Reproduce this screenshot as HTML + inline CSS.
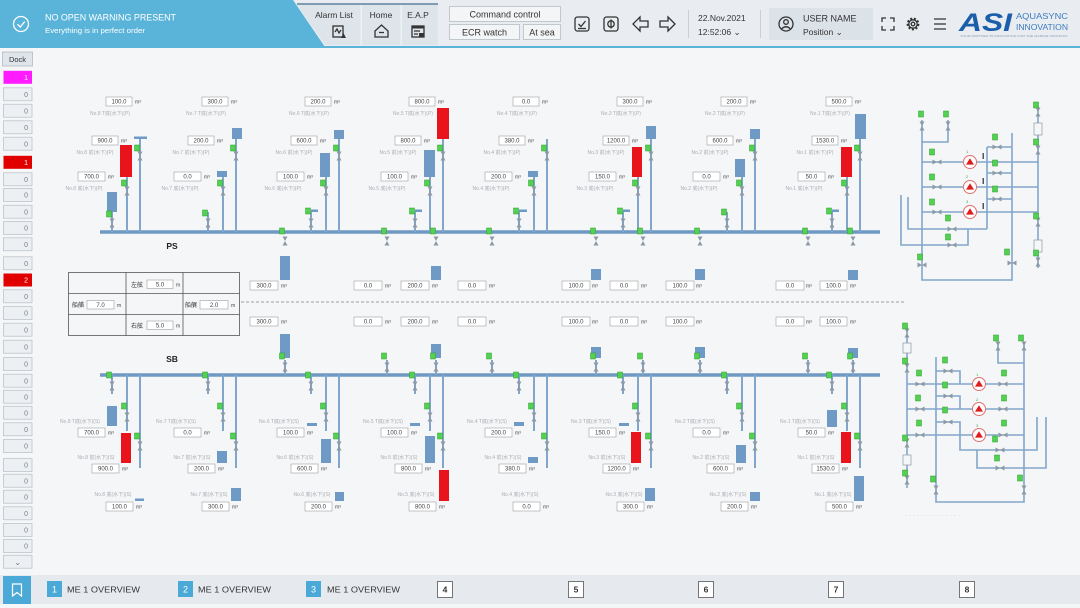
<!DOCTYPE html>
<html><head><meta charset="utf-8">
<style>
html,body{margin:0;padding:0;background:#f5f6f7;}
svg{display:block;font-family:"Liberation Sans","Noto Sans CJK SC",sans-serif;}
.p{stroke:#82a6cb;stroke-width:2;fill:none}
.hd{stroke:#6f98c3;stroke-width:3.5}
.bx{fill:#fff;stroke:#9a9fa5;stroke-width:0.6}
.bt{font-size:6px;fill:#444;text-anchor:middle}
.u{font-size:5px;fill:#444}
.lb{font-size:5px;fill:#a9aeb4;text-anchor:middle}
.tb{fill:#6f9ac6}
.tr{fill:#e8131b}
.sp{stroke:#82a6cb;stroke-width:1.6;fill:none}
.sb{fill:#edf0f3;stroke:#b5bec6;stroke-width:0.7}
.st{font-size:7px;fill:#7a7f85;text-anchor:end}
.ic{fill:none;stroke:#333;stroke-width:1.3}
.tt{font-size:8.5px;fill:#333}
</style></head><body>
<svg width="1080" height="608" viewBox="0 0 1080 608" xmlns="http://www.w3.org/2000/svg">
<defs>
<g id="mk"><rect x="-2.5" y="-3" width="5" height="6" fill="#52d152" stroke="#2f9e2f" stroke-width="0.5"/></g>
<g id="vv"><path d="M-2.5,-4.5H2.5L0,0ZM0,0L2.5,4.5H-2.5Z" fill="#8d99a5"/></g>
<g id="vh"><path d="M-4.5,-2.5V2.5L0,0ZM0,0L4.5,-2.5V2.5Z" fill="#8d99a5"/></g>
<g id="pm"><circle r="6.5" fill="#fff" stroke="#e07070" stroke-width="1"/><path d="M0,-3.8L4,2.6H-4Z" fill="#e01c1c"/></g>
</defs>

<rect width="1080" height="608" fill="#f5f6f7"/>

<!-- TOP BAR -->
<rect width="1080" height="47" fill="#e9edf1"/>
<path d="M0,0H293L325,47H0Z" fill="#5ab4d9"/>
<rect y="46" width="1080" height="2" fill="#5ab4d9"/>
<circle cx="21" cy="24" r="7.5" fill="none" stroke="#fff" stroke-width="1.3"/>
<path d="M17.5,24.2L20.2,27L24.8,21.6" fill="none" stroke="#fff" stroke-width="1.3"/>
<text x="45" y="20.5" font-size="9" fill="#fff" textLength="131" lengthAdjust="spacingAndGlyphs">NO OPEN WARNING PRESENT</text>
<text x="45" y="33" font-size="7.5" fill="#fff" textLength="100" lengthAdjust="spacingAndGlyphs">Everything is in perfect order</text>

<!-- tabs -->
<path d="M297,4H438V45H325Z" fill="#dde4ea"/>
<rect x="297" y="3" width="141" height="2" fill="#7f9cb5"/>
<rect x="360.5" y="5" width="1.5" height="40" fill="#eef2f5"/>
<rect x="400.5" y="5" width="1.5" height="40" fill="#eef2f5"/>
<text class="tt" x="334" y="18" text-anchor="middle">Alarm List</text>
<text class="tt" x="381" y="18" text-anchor="middle">Home</text>
<text class="tt" x="418" y="18" text-anchor="middle">E.A.P</text>
<rect x="333" y="26" width="10" height="11" class="ic"/>
<path d="M335,32L337,29L339,33L341,30" class="ic" stroke-width="0.9"/>
<path d="M341,38L343.5,33L346,38Z" fill="#333"/>
<path d="M375,31L381.5,25L388,31V37H375Z" class="ic"/>
<path d="M379,32.5H384" class="ic"/>
<rect x="412" y="26" width="12" height="11" class="ic"/>
<rect x="412" y="26" width="12" height="2.5" fill="#333"/>
<path d="M414,31H420M414,34H418" class="ic" stroke-width="0.8"/>
<rect x="419" y="33" width="5" height="4" fill="#333"/>

<rect x="449.5" y="6.5" width="111" height="15" fill="#f3f5f7" stroke="#b5bdc5" stroke-width="0.8"/>
<text x="505" y="17.5" font-size="9" fill="#333" text-anchor="middle">Command control</text>
<rect x="449.5" y="24.5" width="70" height="15" fill="#f3f5f7" stroke="#b5bdc5" stroke-width="0.8"/>
<text x="484.5" y="35.5" font-size="9" fill="#333" text-anchor="middle">ECR watch</text>
<rect x="523.5" y="24.5" width="37" height="15" fill="#f3f5f7" stroke="#b5bdc5" stroke-width="0.8"/>
<text x="542" y="35.5" font-size="9" fill="#333" text-anchor="middle">At sea</text>

<!-- nav icons -->
<rect x="575" y="17" width="14" height="14" rx="2.5" class="ic"/>
<path d="M578.5,24L581,26.5L585.5,21" class="ic"/>
<path d="M578,28.5H586" class="ic" stroke-width="0.8"/>
<rect x="604" y="17" width="14" height="14" rx="2.5" class="ic"/>
<circle cx="611" cy="24" r="3.2" class="ic"/>
<path d="M611,19.5V28.5" class="ic"/>
<path d="M633,24L640,17V21H648V27H640V31Z" class="ic"/>
<path d="M675,24L668,17V21H660V27H668V31Z" class="ic"/>
<rect x="688" y="10" width="1" height="28" fill="#c9d0d6"/>
<text x="698" y="21" font-size="8.5" fill="#333">22.Nov.2021</text>
<text x="698" y="35" font-size="8.5" fill="#333">12:52:06 ⌄</text>
<rect x="760" y="10" width="1" height="28" fill="#c9d0d6"/>
<rect x="769" y="8" width="104" height="32" fill="#dbe2e8"/>
<circle cx="786" cy="24" r="7" class="ic"/>
<circle cx="786" cy="22" r="2.3" class="ic" stroke-width="1"/>
<path d="M781.5,29Q786,24.5 790.5,29" class="ic" stroke-width="1"/>
<text x="803" y="21.5" font-size="9" fill="#333">USER NAME</text>
<text x="803" y="35" font-size="8.5" fill="#333">Position ⌄</text>
<path d="M882,22V18H886M890,18H894V22M894,26V30H890M886,30H882V26" class="ic"/>
<circle cx="913" cy="24" r="5.2" fill="none" stroke="#333" stroke-width="2.4" stroke-dasharray="2 1.6"/>
<circle cx="913" cy="24" r="4.2" class="ic"/>
<circle cx="913" cy="24" r="1.8" class="ic"/>
<path d="M934,19H946M934,24H946M934,29H946" class="ic"/>
<text x="959" y="31" font-size="25" font-weight="bold" font-style="italic" fill="#1b5ea9" textLength="53" lengthAdjust="spacingAndGlyphs">ASI</text>
<text x="1016" y="19" font-size="8" fill="#3d7bbf" textLength="52" lengthAdjust="spacingAndGlyphs">AQUASYNC</text>
<text x="1016" y="30" font-size="8" fill="#3d7bbf" textLength="52" lengthAdjust="spacingAndGlyphs">INNOVATION</text>
<text x="960" y="37" font-size="3" fill="#8aa0b5" textLength="108" lengthAdjust="spacingAndGlyphs">YOUR PARTNER IN INNOVATION FOR THE MARINE INDUSTRY</text>

<!-- SIDEBAR -->
<rect x="2.5" y="52" width="30" height="14" fill="#dfe5ea" stroke="#aab3bb" stroke-width="0.7"/>
<text x="17.5" y="62" font-size="7.5" fill="#333" text-anchor="middle">Dock</text>
<rect x="3.5" y="70.8" width="28.5" height="13" fill="#ff1aff"/><text class="st" x="28" y="80" fill="#fff" style="fill:#fff">1</text>
<rect class="sb" x="3.5" y="87.8" width="28.5" height="13"/><text class="st" x="28" y="97">0</text>
<rect class="sb" x="3.5" y="104.2" width="28.5" height="13"/><text class="st" x="28" y="113.4">0</text>
<rect class="sb" x="3.5" y="120.8" width="28.5" height="13"/><text class="st" x="28" y="130">0</text>
<rect class="sb" x="3.5" y="137.2" width="28.5" height="13"/><text class="st" x="28" y="146.4">0</text>
<rect x="3.5" y="155.8" width="28.5" height="13" fill="#e00000"/><text class="st" x="28" y="165" style="fill:#fff">1</text>
<rect class="sb" x="3.5" y="172.8" width="28.5" height="13"/><text class="st" x="28" y="182">0</text>
<rect class="sb" x="3.5" y="188.5" width="28.5" height="13"/><text class="st" x="28" y="197.7">0</text>
<rect class="sb" x="3.5" y="205.2" width="28.5" height="13"/><text class="st" x="28" y="214.4">0</text>
<rect class="sb" x="3.5" y="221.5" width="28.5" height="13"/><text class="st" x="28" y="230.7">0</text>
<rect class="sb" x="3.5" y="237.8" width="28.5" height="13"/><text class="st" x="28" y="247">0</text>
<rect class="sb" x="3.5" y="256.8" width="28.5" height="13"/><text class="st" x="28" y="266">0</text>
<rect x="3.5" y="273.5" width="28.5" height="13" fill="#e00000"/><text class="st" x="28" y="282.7" style="fill:#fff">2</text>
<rect class="sb" x="3.5" y="289.8" width="28.5" height="13"/><text class="st" x="28" y="299">0</text>
<rect class="sb" x="3.5" y="306.5" width="28.5" height="13"/><text class="st" x="28" y="315.7">0</text>
<rect class="sb" x="3.5" y="323.2" width="28.5" height="13"/><text class="st" x="28" y="332.4">0</text>
<rect class="sb" x="3.5" y="340.2" width="28.5" height="13"/><text class="st" x="28" y="349.4">0</text>
<rect class="sb" x="3.5" y="357.5" width="28.5" height="13"/><text class="st" x="28" y="366.7">0</text>
<rect class="sb" x="3.5" y="374.2" width="28.5" height="13"/><text class="st" x="28" y="383.4">0</text>
<rect class="sb" x="3.5" y="390.2" width="28.5" height="13"/><text class="st" x="28" y="399.4">0</text>
<rect class="sb" x="3.5" y="406.2" width="28.5" height="13"/><text class="st" x="28" y="415.4">0</text>
<rect class="sb" x="3.5" y="422.8" width="28.5" height="13"/><text class="st" x="28" y="432">0</text>
<rect class="sb" x="3.5" y="439.5" width="28.5" height="13"/><text class="st" x="28" y="448.7">0</text>
<rect class="sb" x="3.5" y="458.5" width="28.5" height="13"/><text class="st" x="28" y="467.7">0</text>
<rect class="sb" x="3.5" y="474.2" width="28.5" height="13"/><text class="st" x="28" y="483.4">0</text>
<rect class="sb" x="3.5" y="490.2" width="28.5" height="13"/><text class="st" x="28" y="499.4">0</text>
<rect class="sb" x="3.5" y="506.8" width="28.5" height="13"/><text class="st" x="28" y="516">0</text>
<rect class="sb" x="3.5" y="523.5" width="28.5" height="13"/><text class="st" x="28" y="532.7">0</text>
<rect class="sb" x="3.5" y="539.5" width="28.5" height="13"/><text class="st" x="28" y="548.7">0</text>
<rect class="sb" x="3.5" y="555.2" width="28.5" height="13"/><text x="17.7" y="565" font-size="8" fill="#777" text-anchor="middle">⌄</text>

<!-- HEADERS -->
<path class="hd" d="M100,232H880M100,375H880"/>
<text x="172" y="249" font-size="8.5" font-weight="bold" fill="#222" text-anchor="middle">PS</text>
<text x="172" y="362" font-size="8.5" font-weight="bold" fill="#222" text-anchor="middle">SB</text>

<!-- ===== PS GROUPS ===== -->
<g transform="translate(140,0)">
<rect class="tb" x="-6" y="136.5" width="13" height="2.5"/>
<rect class="tr" x="-20" y="145" width="12" height="32"/>
<rect class="tb" x="-33" y="192" width="10" height="20"/>
<path class="p" d="M0,139V232M-13,177V232M-28,212V232"/>
<use href="#mk" x="-3" y="148"/><use href="#vv" x="0" y="156"/>
<use href="#mk" x="-16" y="183"/><use href="#vv" x="-13" y="191"/>
<use href="#mk" x="-31" y="214"/><use href="#vv" x="-28" y="223"/>
<rect class="bx" x="-34" y="97" width="26" height="9"/><text class="bt" x="-21" y="103.6">100.0</text><text class="u" x="-5" y="103.6">m³</text>
<text class="lb" x="-30" y="115">No.8 T底(水下)(P)</text>
<rect class="bx" x="-48" y="136" width="26" height="9"/><text class="bt" x="-35" y="142.6">900.0</text><text class="u" x="-19" y="142.6">m³</text>
<text class="lb" x="-45" y="154">No.8 前(水下)(P)</text>
<rect class="bx" x="-62" y="172" width="27" height="9"/><text class="bt" x="-48.5" y="178.6">700.0</text><text class="u" x="-32" y="178.6">m³</text>
<text class="lb" x="-56" y="190">No.8 底(水下)(P)</text>
</g>

<g transform="translate(236,0)">
<rect class="tb" x="-4" y="128" width="10" height="11"/>
<rect class="tb" x="-19" y="171" width="10" height="6"/>
<path class="p" d="M0,139V232M-13,177V232M-28,212V232"/>
<use href="#mk" x="-3" y="148"/><use href="#vv" x="0" y="156"/>
<use href="#mk" x="-16" y="183"/><use href="#vv" x="-13" y="191"/>
<use href="#mk" x="-31" y="213"/><use href="#vv" x="-28" y="223"/>
<rect class="bx" x="-34" y="97" width="26" height="9"/><text class="bt" x="-21" y="103.6">300.0</text><text class="u" x="-5" y="103.6">m³</text>
<text class="lb" x="-30" y="115">No.7 T底(水下)(P)</text>
<rect class="bx" x="-48" y="136" width="26" height="9"/><text class="bt" x="-35" y="142.6">200.0</text><text class="u" x="-19" y="142.6">m³</text>
<text class="lb" x="-45" y="154">No.7 前(水下)(P)</text>
<rect class="bx" x="-62" y="172" width="27" height="9"/><text class="bt" x="-48.5" y="178.6">0.0</text><text class="u" x="-32" y="178.6">m³</text>
<text class="lb" x="-56" y="190">No.7 底(水下)(P)</text>
</g>

<g transform="translate(339,0)">
<rect class="tb" x="-5" y="130" width="10" height="9"/>
<rect class="tb" x="-19" y="153" width="10" height="24"/>
<rect class="tb" x="-28" y="209.5" width="7" height="2.5"/>
<path class="p" d="M0,139V232M-13,177V232M-28,212V232"/>
<use href="#mk" x="-3" y="148"/><use href="#vv" x="0" y="156"/>
<use href="#mk" x="-16" y="183"/><use href="#vv" x="-13" y="191"/>
<use href="#mk" x="-31" y="211"/><use href="#vv" x="-28" y="223"/>
<rect class="bx" x="-34" y="97" width="26" height="9"/><text class="bt" x="-21" y="103.6">200.0</text><text class="u" x="-5" y="103.6">m³</text>
<text class="lb" x="-30" y="115">No.6 T底(水下)(P)</text>
<rect class="bx" x="-48" y="136" width="26" height="9"/><text class="bt" x="-35" y="142.6">600.0</text><text class="u" x="-19" y="142.6">m³</text>
<text class="lb" x="-45" y="154">No.6 前(水下)(P)</text>
<rect class="bx" x="-62" y="172" width="27" height="9"/><text class="bt" x="-48.5" y="178.6">100.0</text><text class="u" x="-32" y="178.6">m³</text>
<text class="lb" x="-56" y="190">No.6 底(水下)(P)</text>
</g>

<g transform="translate(443,0)">
<rect class="tr" x="-6" y="108" width="12" height="31"/>
<rect class="tb" x="-19" y="150" width="11" height="27"/>
<rect class="tb" x="-28" y="209.5" width="7" height="2.5"/>
<path class="p" d="M0,139V232M-13,177V232M-28,212V232"/>
<use href="#mk" x="-3" y="148"/><use href="#vv" x="0" y="156"/>
<use href="#mk" x="-16" y="183"/><use href="#vv" x="-13" y="191"/>
<use href="#mk" x="-31" y="211"/><use href="#vv" x="-28" y="223"/>
<rect class="bx" x="-34" y="97" width="26" height="9"/><text class="bt" x="-21" y="103.6">800.0</text><text class="u" x="-5" y="103.6">m³</text>
<text class="lb" x="-30" y="115">No.5 T底(水下)(P)</text>
<rect class="bx" x="-48" y="136" width="26" height="9"/><text class="bt" x="-35" y="142.6">800.0</text><text class="u" x="-19" y="142.6">m³</text>
<text class="lb" x="-45" y="154">No.5 前(水下)(P)</text>
<rect class="bx" x="-62" y="172" width="27" height="9"/><text class="bt" x="-48.5" y="178.6">100.0</text><text class="u" x="-32" y="178.6">m³</text>
<text class="lb" x="-56" y="190">No.5 底(水下)(P)</text>
</g>

<g transform="translate(547,0)">
<rect class="tb" x="-19" y="171" width="10" height="6"/>
<rect class="tb" x="-28" y="209.5" width="8" height="2.5"/>
<path class="p" d="M0,139V232M-13,177V232M-28,212V232"/>
<use href="#mk" x="-3" y="148"/><use href="#vv" x="0" y="156"/>
<use href="#mk" x="-16" y="183"/><use href="#vv" x="-13" y="191"/>
<use href="#mk" x="-31" y="211"/><use href="#vv" x="-28" y="223"/>
<rect class="bx" x="-34" y="97" width="26" height="9"/><text class="bt" x="-21" y="103.6">0.0</text><text class="u" x="-5" y="103.6">m³</text>
<text class="lb" x="-30" y="115">No.4 T底(水下)(P)</text>
<rect class="bx" x="-48" y="136" width="26" height="9"/><text class="bt" x="-35" y="142.6">380.0</text><text class="u" x="-19" y="142.6">m³</text>
<text class="lb" x="-45" y="154">No.4 前(水下)(P)</text>
<rect class="bx" x="-62" y="172" width="27" height="9"/><text class="bt" x="-48.5" y="178.6">200.0</text><text class="u" x="-32" y="178.6">m³</text>
<text class="lb" x="-56" y="190">No.4 底(水下)(P)</text>
</g>

<g transform="translate(651,0)">
<rect class="tb" x="-5" y="126" width="10" height="13"/>
<rect class="tr" x="-19" y="147" width="10" height="30"/>
<rect class="tb" x="-28" y="209.5" width="7" height="2.5"/>
<path class="p" d="M0,139V232M-13,177V232M-28,212V232"/>
<use href="#mk" x="-3" y="148"/><use href="#vv" x="0" y="156"/>
<use href="#mk" x="-16" y="183"/><use href="#vv" x="-13" y="191"/>
<use href="#mk" x="-31" y="211"/><use href="#vv" x="-28" y="223"/>
<rect class="bx" x="-34" y="97" width="26" height="9"/><text class="bt" x="-21" y="103.6">300.0</text><text class="u" x="-5" y="103.6">m³</text>
<text class="lb" x="-30" y="115">No.3 T底(水下)(P)</text>
<rect class="bx" x="-48" y="136" width="26" height="9"/><text class="bt" x="-35" y="142.6">1200.0</text><text class="u" x="-19" y="142.6">m³</text>
<text class="lb" x="-45" y="154">No.3 前(水下)(P)</text>
<rect class="bx" x="-62" y="172" width="27" height="9"/><text class="bt" x="-48.5" y="178.6">150.0</text><text class="u" x="-32" y="178.6">m³</text>
<text class="lb" x="-56" y="190">No.3 底(水下)(P)</text>
</g>

<g transform="translate(755,0)">
<rect class="tb" x="-5" y="129" width="10" height="10"/>
<rect class="tb" x="-20" y="159" width="10" height="18"/>
<path class="p" d="M0,139V232M-13,177V232M-28,212V232"/>
<use href="#mk" x="-3" y="148"/><use href="#vv" x="0" y="156"/>
<use href="#mk" x="-16" y="183"/><use href="#vv" x="-13" y="191"/>
<use href="#mk" x="-31" y="212"/><use href="#vv" x="-28" y="223"/>
<rect class="bx" x="-34" y="97" width="26" height="9"/><text class="bt" x="-21" y="103.6">200.0</text><text class="u" x="-5" y="103.6">m³</text>
<text class="lb" x="-30" y="115">No.2 T底(水下)(P)</text>
<rect class="bx" x="-48" y="136" width="26" height="9"/><text class="bt" x="-35" y="142.6">600.0</text><text class="u" x="-19" y="142.6">m³</text>
<text class="lb" x="-45" y="154">No.2 前(水下)(P)</text>
<rect class="bx" x="-62" y="172" width="27" height="9"/><text class="bt" x="-48.5" y="178.6">0.0</text><text class="u" x="-32" y="178.6">m³</text>
<text class="lb" x="-56" y="190">No.2 底(水下)(P)</text>
</g>

<g transform="translate(860,0)">
<rect class="tb" x="-5" y="114" width="11" height="25"/>
<rect class="tr" x="-19" y="147" width="11" height="30"/>
<rect class="tb" x="-28" y="209.5" width="7" height="2.5"/>
<path class="p" d="M0,139V232M-13,177V232M-28,212V232"/>
<use href="#mk" x="-3" y="148"/><use href="#vv" x="0" y="156"/>
<use href="#mk" x="-16" y="183"/><use href="#vv" x="-13" y="191"/>
<use href="#mk" x="-31" y="211"/><use href="#vv" x="-28" y="223"/>
<rect class="bx" x="-34" y="97" width="26" height="9"/><text class="bt" x="-21" y="103.6">500.0</text><text class="u" x="-5" y="103.6">m³</text>
<text class="lb" x="-30" y="115">No.1 T底(水下)(P)</text>
<rect class="bx" x="-48" y="136" width="26" height="9"/><text class="bt" x="-35" y="142.6">1530.0</text><text class="u" x="-19" y="142.6">m³</text>
<text class="lb" x="-45" y="154">No.1 前(水下)(P)</text>
<rect class="bx" x="-62" y="172" width="27" height="9"/><text class="bt" x="-48.5" y="178.6">50.0</text><text class="u" x="-32" y="178.6">m³</text>
<text class="lb" x="-56" y="190">No.1 底(水下)(P)</text>
</g>

<!-- PS header branch valves -->
<g>
<use href="#mk" x="282" y="231"/><use href="#vv" x="285" y="241"/>
<use href="#mk" x="384" y="231"/><use href="#vv" x="387" y="241"/>
<use href="#mk" x="433" y="231"/><use href="#vv" x="436" y="241"/>
<use href="#mk" x="489" y="231"/><use href="#vv" x="492" y="241"/>
<use href="#mk" x="593" y="231"/><use href="#vv" x="596" y="241"/>
<use href="#mk" x="640" y="231"/><use href="#vv" x="643" y="241"/>
<use href="#mk" x="697" y="231"/><use href="#vv" x="700" y="241"/>
<use href="#mk" x="805" y="231"/><use href="#vv" x="808" y="241"/>
<use href="#mk" x="850" y="231"/><use href="#vv" x="853" y="241"/>
</g>

<!-- middle band upper -->
<rect class="tb" x="280" y="256" width="10" height="24"/>
<rect class="tb" x="431" y="266" width="10" height="14"/>
<rect class="tb" x="591" y="269" width="10" height="11"/>
<rect class="tb" x="695" y="269" width="10" height="11"/>
<rect class="tb" x="848" y="270" width="10" height="10"/>
<rect class="bx" x="250" y="281" width="28" height="9"/><text class="bt" x="264" y="287.6">300.0</text><text class="u" x="281" y="287.6">m³</text>
<rect class="bx" x="354" y="281" width="28" height="9"/><text class="bt" x="368" y="287.6">0.0</text><text class="u" x="385" y="287.6">m³</text>
<rect class="bx" x="401" y="281" width="28" height="9"/><text class="bt" x="415" y="287.6">200.0</text><text class="u" x="432" y="287.6">m³</text>
<rect class="bx" x="458" y="281" width="28" height="9"/><text class="bt" x="472" y="287.6">0.0</text><text class="u" x="489" y="287.6">m³</text>
<rect class="bx" x="562" y="281" width="28" height="9"/><text class="bt" x="576" y="287.6">100.0</text><text class="u" x="592" y="287.6">m³</text>
<rect class="bx" x="610" y="281" width="28" height="9"/><text class="bt" x="624" y="287.6">0.0</text><text class="u" x="641" y="287.6">m³</text>
<rect class="bx" x="666" y="281" width="28" height="9"/><text class="bt" x="680" y="287.6">100.0</text><text class="u" x="696" y="287.6">m³</text>
<rect class="bx" x="776" y="281" width="28" height="9"/><text class="bt" x="790" y="287.6">0.0</text><text class="u" x="806" y="287.6">m³</text>
<rect class="bx" x="820" y="281" width="27" height="9"/><text class="bt" x="833.5" y="287.6">100.0</text><text class="u" x="850" y="287.6">m³</text>

<path d="M241,302H905" stroke="#9aa0a6" stroke-width="1" stroke-dasharray="3 2"/>

<!-- middle band lower -->
<rect class="bx" x="250" y="317" width="28" height="9"/><text class="bt" x="264" y="323.6">300.0</text><text class="u" x="281" y="323.6">m³</text>
<rect class="bx" x="354" y="317" width="28" height="9"/><text class="bt" x="368" y="323.6">0.0</text><text class="u" x="385" y="323.6">m³</text>
<rect class="bx" x="401" y="317" width="28" height="9"/><text class="bt" x="415" y="323.6">200.0</text><text class="u" x="432" y="323.6">m³</text>
<rect class="bx" x="458" y="317" width="28" height="9"/><text class="bt" x="472" y="323.6">0.0</text><text class="u" x="489" y="323.6">m³</text>
<rect class="bx" x="562" y="317" width="28" height="9"/><text class="bt" x="576" y="323.6">100.0</text><text class="u" x="592" y="323.6">m³</text>
<rect class="bx" x="610" y="317" width="28" height="9"/><text class="bt" x="624" y="323.6">0.0</text><text class="u" x="641" y="323.6">m³</text>
<rect class="bx" x="666" y="317" width="28" height="9"/><text class="bt" x="680" y="323.6">100.0</text><text class="u" x="696" y="323.6">m³</text>
<rect class="bx" x="776" y="317" width="28" height="9"/><text class="bt" x="790" y="323.6">0.0</text><text class="u" x="806" y="323.6">m³</text>
<rect class="bx" x="820" y="317" width="27" height="9"/><text class="bt" x="833.5" y="323.6">100.0</text><text class="u" x="850" y="323.6">m³</text>
<rect class="tb" x="280" y="334" width="10" height="24"/>
<rect class="tb" x="431" y="344" width="10" height="14"/>
<rect class="tb" x="591" y="347" width="10" height="11"/>
<rect class="tb" x="695" y="347" width="10" height="11"/>
<rect class="tb" x="848" y="348" width="10" height="10"/>
<path class="p" d="M285,360V375M387,360V375M436,360V375M492,360V375M596,360V375M643,360V375M700,360V375M808,360V375M853,360V375"/>
<use href="#mk" x="282" y="356"/><use href="#vv" x="285" y="367"/>
<use href="#mk" x="384" y="356"/><use href="#vv" x="387" y="367"/>
<use href="#mk" x="433" y="356"/><use href="#vv" x="436" y="367"/>
<use href="#mk" x="489" y="356"/><use href="#vv" x="492" y="367"/>
<use href="#mk" x="593" y="356"/><use href="#vv" x="596" y="367"/>
<use href="#mk" x="640" y="356"/><use href="#vv" x="643" y="367"/>
<use href="#mk" x="697" y="356"/><use href="#vv" x="700" y="367"/>
<use href="#mk" x="805" y="356"/><use href="#vv" x="808" y="367"/>
<use href="#mk" x="850" y="356"/><use href="#vv" x="853" y="367"/>

<!-- draft table -->
<g stroke="#555" stroke-width="0.8" fill="none">
<rect x="68.5" y="272.5" width="171" height="63"/>
<path d="M126,272.5V335.5M183,272.5V335.5M68.5,293.5H239.5M68.5,314.5H239.5"/>
</g>
<text x="131" y="287" font-size="6" fill="#333">左舷</text>
<rect class="bx" x="147" y="280" width="26" height="8.5"/><text class="bt" x="160" y="286.5">5.0</text><text class="u" x="176" y="286.5">m</text>
<text x="72" y="307" font-size="6" fill="#333">船艏</text>
<rect class="bx" x="87" y="300.5" width="27" height="8.5"/><text class="bt" x="100.5" y="307">7.0</text><text class="u" x="117" y="307">m</text>
<text x="185" y="307" font-size="6" fill="#333">船艉</text>
<rect class="bx" x="200" y="300.5" width="28" height="8.5"/><text class="bt" x="214" y="307">2.0</text><text class="u" x="231" y="307">m</text>
<text x="131" y="328" font-size="6" fill="#333">右舷</text>
<rect class="bx" x="147" y="321" width="26" height="8.5"/><text class="bt" x="160" y="327.5">5.0</text><text class="u" x="176" y="327.5">m</text>

<!-- ===== SB GROUPS ===== -->
<g transform="translate(140,0)">
<rect class="tb" x="-33" y="406" width="10" height="20"/>
<rect class="tr" x="-19" y="433" width="10" height="30"/>
<rect class="tb" x="-5" y="498.5" width="9" height="2.5"/>
<path class="p" d="M-28,375V394M-13,375V431M0,375V468"/>
<use href="#mk" x="-31" y="375"/><use href="#vv" x="-28" y="386"/>
<use href="#mk" x="-16" y="406"/><use href="#vv" x="-13" y="417"/>
<use href="#mk" x="-3" y="436"/><use href="#vv" x="0" y="446"/>
<text class="lb" x="-60" y="423">No.8 T底(水下)(S)</text>
<rect class="bx" x="-62" y="428" width="27" height="9"/><text class="bt" x="-48.5" y="434.6">700.0</text><text class="u" x="-32" y="434.6">m³</text>
<text class="lb" x="-44" y="459">No.8 前(水下)(S)</text>
<rect class="bx" x="-48" y="464" width="27" height="9"/><text class="bt" x="-34.5" y="470.6">900.0</text><text class="u" x="-18" y="470.6">m³</text>
<text class="lb" x="-27" y="496">No.8 底(水下)(S)</text>
<rect class="bx" x="-34" y="502" width="27" height="9"/><text class="bt" x="-20.5" y="508.6">100.0</text><text class="u" x="-4" y="508.6">m³</text>
</g>

<g transform="translate(236,0)">
<rect class="tb" x="-19" y="451" width="10" height="12"/>
<rect class="tb" x="-5" y="488" width="10" height="13"/>
<path class="p" d="M-28,375V394M-13,375V431M0,375V468"/>
<use href="#mk" x="-31" y="375"/><use href="#vv" x="-28" y="386"/>
<use href="#mk" x="-16" y="406"/><use href="#vv" x="-13" y="417"/>
<use href="#mk" x="-3" y="436"/><use href="#vv" x="0" y="446"/>
<text class="lb" x="-60" y="423">No.7 T底(水下)(S)</text>
<rect class="bx" x="-62" y="428" width="27" height="9"/><text class="bt" x="-48.5" y="434.6">0.0</text><text class="u" x="-32" y="434.6">m³</text>
<text class="lb" x="-44" y="459">No.7 前(水下)(S)</text>
<rect class="bx" x="-48" y="464" width="27" height="9"/><text class="bt" x="-34.5" y="470.6">200.0</text><text class="u" x="-18" y="470.6">m³</text>
<text class="lb" x="-27" y="496">No.7 底(水下)(S)</text>
<rect class="bx" x="-34" y="502" width="27" height="9"/><text class="bt" x="-20.5" y="508.6">300.0</text><text class="u" x="-4" y="508.6">m³</text>
</g>

<g transform="translate(339,0)">
<rect class="tb" x="-32" y="423" width="10" height="3"/>
<rect class="tb" x="-18" y="439" width="10" height="24"/>
<rect class="tb" x="-4" y="492" width="9" height="9"/>
<path class="p" d="M-28,375V394M-13,375V431M0,375V468"/>
<use href="#mk" x="-31" y="375"/><use href="#vv" x="-28" y="386"/>
<use href="#mk" x="-16" y="406"/><use href="#vv" x="-13" y="417"/>
<use href="#mk" x="-3" y="436"/><use href="#vv" x="0" y="446"/>
<text class="lb" x="-60" y="423">No.6 T底(水下)(S)</text>
<rect class="bx" x="-62" y="428" width="27" height="9"/><text class="bt" x="-48.5" y="434.6">100.0</text><text class="u" x="-32" y="434.6">m³</text>
<text class="lb" x="-44" y="459">No.6 前(水下)(S)</text>
<rect class="bx" x="-48" y="464" width="27" height="9"/><text class="bt" x="-34.5" y="470.6">600.0</text><text class="u" x="-18" y="470.6">m³</text>
<text class="lb" x="-27" y="496">No.6 底(水下)(S)</text>
<rect class="bx" x="-34" y="502" width="27" height="9"/><text class="bt" x="-20.5" y="508.6">200.0</text><text class="u" x="-4" y="508.6">m³</text>
</g>

<g transform="translate(443,0)">
<rect class="tb" x="-33" y="423" width="10" height="3"/>
<rect class="tb" x="-18" y="436" width="10" height="27"/>
<rect class="tr" x="-4" y="470" width="10" height="31"/>
<path class="p" d="M-28,375V394M-13,375V431M0,375V468"/>
<use href="#mk" x="-31" y="375"/><use href="#vv" x="-28" y="386"/>
<use href="#mk" x="-16" y="406"/><use href="#vv" x="-13" y="417"/>
<use href="#mk" x="-3" y="436"/><use href="#vv" x="0" y="446"/>
<text class="lb" x="-60" y="423">No.5 T底(水下)(S)</text>
<rect class="bx" x="-62" y="428" width="27" height="9"/><text class="bt" x="-48.5" y="434.6">100.0</text><text class="u" x="-32" y="434.6">m³</text>
<text class="lb" x="-44" y="459">No.5 前(水下)(S)</text>
<rect class="bx" x="-48" y="464" width="27" height="9"/><text class="bt" x="-34.5" y="470.6">800.0</text><text class="u" x="-18" y="470.6">m³</text>
<text class="lb" x="-27" y="496">No.5 底(水下)(S)</text>
<rect class="bx" x="-34" y="502" width="27" height="9"/><text class="bt" x="-20.5" y="508.6">800.0</text><text class="u" x="-4" y="508.6">m³</text>
</g>

<g transform="translate(547,0)">
<rect class="tb" x="-33" y="422" width="10" height="4"/>
<rect class="tb" x="-19" y="457" width="10" height="6"/>
<path class="p" d="M-28,375V394M-13,375V431M0,375V468"/>
<use href="#mk" x="-31" y="375"/><use href="#vv" x="-28" y="386"/>
<use href="#mk" x="-16" y="406"/><use href="#vv" x="-13" y="417"/>
<use href="#mk" x="-3" y="436"/><use href="#vv" x="0" y="446"/>
<text class="lb" x="-60" y="423">No.4 T底(水下)(S)</text>
<rect class="bx" x="-62" y="428" width="27" height="9"/><text class="bt" x="-48.5" y="434.6">200.0</text><text class="u" x="-32" y="434.6">m³</text>
<text class="lb" x="-44" y="459">No.4 前(水下)(S)</text>
<rect class="bx" x="-48" y="464" width="27" height="9"/><text class="bt" x="-34.5" y="470.6">380.0</text><text class="u" x="-18" y="470.6">m³</text>
<text class="lb" x="-27" y="496">No.4 底(水下)(S)</text>
<rect class="bx" x="-34" y="502" width="27" height="9"/><text class="bt" x="-20.5" y="508.6">0.0</text><text class="u" x="-4" y="508.6">m³</text>
</g>

<g transform="translate(651,0)">
<rect class="tb" x="-32" y="423" width="10" height="3"/>
<rect class="tr" x="-20" y="432" width="10" height="31"/>
<rect class="tb" x="-6" y="488" width="10" height="13"/>
<path class="p" d="M-28,375V394M-13,375V431M0,375V468"/>
<use href="#mk" x="-31" y="375"/><use href="#vv" x="-28" y="386"/>
<use href="#mk" x="-16" y="406"/><use href="#vv" x="-13" y="417"/>
<use href="#mk" x="-3" y="436"/><use href="#vv" x="0" y="446"/>
<text class="lb" x="-60" y="423">No.3 T底(水下)(S)</text>
<rect class="bx" x="-62" y="428" width="27" height="9"/><text class="bt" x="-48.5" y="434.6">150.0</text><text class="u" x="-32" y="434.6">m³</text>
<text class="lb" x="-44" y="459">No.3 前(水下)(S)</text>
<rect class="bx" x="-48" y="464" width="27" height="9"/><text class="bt" x="-34.5" y="470.6">1200.0</text><text class="u" x="-18" y="470.6">m³</text>
<text class="lb" x="-27" y="496">No.3 底(水下)(S)</text>
<rect class="bx" x="-34" y="502" width="27" height="9"/><text class="bt" x="-20.5" y="508.6">300.0</text><text class="u" x="-4" y="508.6">m³</text>
</g>

<g transform="translate(755,0)">
<rect class="tb" x="-19" y="445" width="10" height="18"/>
<rect class="tb" x="-5" y="492" width="10" height="9"/>
<path class="p" d="M-28,375V394M-13,375V431M0,375V468"/>
<use href="#mk" x="-31" y="375"/><use href="#vv" x="-28" y="386"/>
<use href="#mk" x="-16" y="406"/><use href="#vv" x="-13" y="417"/>
<use href="#mk" x="-3" y="436"/><use href="#vv" x="0" y="446"/>
<text class="lb" x="-60" y="423">No.2 T底(水下)(S)</text>
<rect class="bx" x="-62" y="428" width="27" height="9"/><text class="bt" x="-48.5" y="434.6">0.0</text><text class="u" x="-32" y="434.6">m³</text>
<text class="lb" x="-44" y="459">No.2 前(水下)(S)</text>
<rect class="bx" x="-48" y="464" width="27" height="9"/><text class="bt" x="-34.5" y="470.6">600.0</text><text class="u" x="-18" y="470.6">m³</text>
<text class="lb" x="-27" y="496">No.2 底(水下)(S)</text>
<rect class="bx" x="-34" y="502" width="27" height="9"/><text class="bt" x="-20.5" y="508.6">200.0</text><text class="u" x="-4" y="508.6">m³</text>
</g>

<g transform="translate(860,0)">
<rect class="tb" x="-33" y="410" width="10" height="17"/>
<rect class="tr" x="-19" y="432" width="10" height="31"/>
<rect class="tb" x="-6" y="476" width="10" height="25"/>
<path class="p" d="M-28,375V394M-13,375V431M0,375V468"/>
<use href="#mk" x="-31" y="375"/><use href="#vv" x="-28" y="386"/>
<use href="#mk" x="-16" y="406"/><use href="#vv" x="-13" y="417"/>
<use href="#mk" x="-3" y="436"/><use href="#vv" x="0" y="446"/>
<text class="lb" x="-60" y="423">No.1 T底(水下)(S)</text>
<rect class="bx" x="-62" y="428" width="27" height="9"/><text class="bt" x="-48.5" y="434.6">50.0</text><text class="u" x="-32" y="434.6">m³</text>
<text class="lb" x="-44" y="459">No.1 前(水下)(S)</text>
<rect class="bx" x="-48" y="464" width="27" height="9"/><text class="bt" x="-34.5" y="470.6">1530.0</text><text class="u" x="-18" y="470.6">m³</text>
<text class="lb" x="-27" y="496">No.1 底(水下)(S)</text>
<rect class="bx" x="-34" y="502" width="27" height="9"/><text class="bt" x="-20.5" y="508.6">500.0</text><text class="u" x="-4" y="508.6">m³</text>
</g>

<!-- ===== RIGHT TOP PUMP SYSTEM ===== -->
<g class="sp">
<path d="M922,120V280H1012V133"/>
<path d="M948,120V142H922"/>
<path d="M922,162H1038M922,187H1038M922,212H1038"/>
<path d="M987,147V229M987,147H1012M987,173H1012M987,199H1012"/>
<path d="M1038,105V268"/>
<path d="M901,195V245H968V229"/>
<path d="M908,197V229H987"/>
</g>
<rect x="1034" y="123" width="8" height="12" fill="#f5f6f7" stroke="#8d99a5" stroke-width="0.7"/>
<rect x="1034" y="240" width="8" height="12" fill="#f5f6f7" stroke="#8d99a5" stroke-width="0.7"/>
<use href="#vv" x="922" y="126"/><use href="#vv" x="948" y="126"/>
<use href="#vv" x="1038" y="112"/><use href="#vv" x="1038" y="150"/>
<use href="#vv" x="1038" y="222"/><use href="#vv" x="1038" y="262"/>
<use href="#vh" x="937" y="162"/><use href="#vh" x="937" y="187"/><use href="#vh" x="937" y="212"/>
<use href="#vh" x="997" y="147"/><use href="#vh" x="997" y="173"/><use href="#vh" x="997" y="199"/>
<use href="#vh" x="952" y="229"/><use href="#vh" x="952" y="245"/>
<use href="#vh" x="922" y="265"/><use href="#vh" x="1012" y="263"/>
<use href="#pm" x="970" y="162"/><use href="#pm" x="970" y="187"/><use href="#pm" x="970" y="212"/>
<text x="966" y="153" font-size="4" fill="#3fb43f">1</text>
<text x="966" y="178" font-size="4" fill="#3fb43f">2</text>
<text x="966" y="203" font-size="4" fill="#3fb43f">3</text>
<rect x="982.5" y="153" width="1.5" height="6" fill="#555"/>
<rect x="982.5" y="178" width="1.5" height="6" fill="#555"/>
<rect x="982.5" y="203" width="1.5" height="6" fill="#555"/>
<use href="#mk" x="921" y="114"/><use href="#mk" x="946" y="114"/>
<use href="#mk" x="932" y="152"/><use href="#mk" x="932" y="177"/><use href="#mk" x="932" y="202"/>
<use href="#mk" x="995" y="137"/><use href="#mk" x="995" y="163"/><use href="#mk" x="995" y="189"/>
<use href="#mk" x="948" y="218"/><use href="#mk" x="948" y="237"/>
<use href="#mk" x="920" y="257"/><use href="#mk" x="1007" y="252"/>
<use href="#mk" x="1036" y="105"/><use href="#mk" x="1036" y="142"/>
<use href="#mk" x="1036" y="216"/><use href="#mk" x="1036" y="253"/>

<!-- ===== RIGHT BOTTOM PUMP SYSTEM ===== -->
<g class="sp">
<path d="M907,327V488"/>
<path d="M936,357V502H1024V343"/>
<path d="M998,343V363H1024"/>
<path d="M907,384H1024M907,409H1024M907,435H1024"/>
<path d="M936,371H960V384M936,396H960V409M936,422H960V450H1037V417"/>
<path d="M977,450V468H1046V417"/>
</g>
<rect x="903" y="343" width="8" height="10" fill="#f5f6f7" stroke="#8d99a5" stroke-width="0.7"/>
<rect x="903" y="455" width="8" height="10" fill="#f5f6f7" stroke="#8d99a5" stroke-width="0.7"/>
<use href="#vv" x="907" y="333"/><use href="#vv" x="907" y="368"/>
<use href="#vv" x="907" y="443"/><use href="#vv" x="907" y="480"/>
<use href="#vv" x="998" y="346"/><use href="#vv" x="1024" y="346"/>
<use href="#vv" x="936" y="490"/><use href="#vv" x="1024" y="490"/>
<use href="#vh" x="920" y="384"/><use href="#vh" x="920" y="409"/><use href="#vh" x="920" y="435"/>
<use href="#vh" x="1003" y="384"/><use href="#vh" x="1003" y="409"/><use href="#vh" x="1003" y="435"/>
<use href="#vh" x="948" y="371"/><use href="#vh" x="948" y="396"/><use href="#vh" x="948" y="422"/>
<use href="#vh" x="1000" y="450"/><use href="#vh" x="1000" y="468"/>
<use href="#pm" x="979" y="384"/><use href="#pm" x="979" y="409"/><use href="#pm" x="979" y="435"/>
<text x="976" y="376" font-size="4" fill="#3fb43f">1</text>
<text x="976" y="401" font-size="4" fill="#3fb43f">2</text>
<text x="976" y="427" font-size="4" fill="#3fb43f">3</text>
<use href="#mk" x="905" y="326"/><use href="#mk" x="905" y="361"/>
<use href="#mk" x="905" y="438"/><use href="#mk" x="905" y="473"/>
<use href="#mk" x="945" y="360"/><use href="#mk" x="945" y="385"/><use href="#mk" x="945" y="410"/>
<use href="#mk" x="919" y="373"/><use href="#mk" x="918" y="398"/><use href="#mk" x="919" y="423"/>
<use href="#mk" x="1004" y="373"/><use href="#mk" x="1004" y="398"/><use href="#mk" x="1004" y="423"/>
<use href="#mk" x="996" y="338"/><use href="#mk" x="1021" y="338"/>
<use href="#mk" x="995" y="439"/><use href="#mk" x="997" y="458"/>
<use href="#mk" x="933" y="479"/><use href="#mk" x="1020" y="478"/>
<text x="905" y="516" font-size="3.5" fill="#c2c6ca" textLength="55" lengthAdjust="spacingAndGlyphs">- - - - - - - - - - - - - -</text>

<!-- BOTTOM BAR -->
<rect y="575" width="1080" height="29" fill="#e6eaee"/>
<rect x="3" y="576" width="28" height="28" fill="#4aa9d6"/>
<path d="M12.5,584H21.5V596L17,592.5L12.5,596Z" fill="none" stroke="#fff" stroke-width="1.2"/>
<rect x="47" y="581" width="15" height="16" fill="#4aa9d6"/><text x="54.5" y="592.5" font-size="9" fill="#fff" text-anchor="middle">1</text>
<text x="67" y="592.5" font-size="8.5" fill="#333" textLength="73" lengthAdjust="spacingAndGlyphs">ME 1 OVERVIEW</text>
<rect x="178" y="581" width="15" height="16" fill="#4aa9d6"/><text x="185.5" y="592.5" font-size="9" fill="#fff" text-anchor="middle">2</text>
<text x="198" y="592.5" font-size="8.5" fill="#333" textLength="73" lengthAdjust="spacingAndGlyphs">ME 1 OVERVIEW</text>
<rect x="306" y="581" width="15" height="16" fill="#4aa9d6"/><text x="313.5" y="592.5" font-size="9" fill="#fff" text-anchor="middle">3</text>
<text x="327" y="592.5" font-size="8.5" fill="#333" textLength="73" lengthAdjust="spacingAndGlyphs">ME 1 OVERVIEW</text>
<rect x="437.5" y="581.5" width="15" height="16" fill="#fff" stroke="#555" stroke-width="0.8"/><text x="445" y="592.5" font-size="8.5" font-weight="bold" fill="#333" text-anchor="middle">4</text>
<rect x="568.5" y="581.5" width="15" height="16" fill="#fff" stroke="#555" stroke-width="0.8"/><text x="576" y="592.5" font-size="8.5" font-weight="bold" fill="#333" text-anchor="middle">5</text>
<rect x="698.5" y="581.5" width="15" height="16" fill="#fff" stroke="#555" stroke-width="0.8"/><text x="706" y="592.5" font-size="8.5" font-weight="bold" fill="#333" text-anchor="middle">6</text>
<rect x="828.5" y="581.5" width="15" height="16" fill="#fff" stroke="#555" stroke-width="0.8"/><text x="836" y="592.5" font-size="8.5" font-weight="bold" fill="#333" text-anchor="middle">7</text>
<rect x="959.5" y="581.5" width="15" height="16" fill="#fff" stroke="#555" stroke-width="0.8"/><text x="967" y="592.5" font-size="8.5" font-weight="bold" fill="#333" text-anchor="middle">8</text>
</svg>
</body></html>
